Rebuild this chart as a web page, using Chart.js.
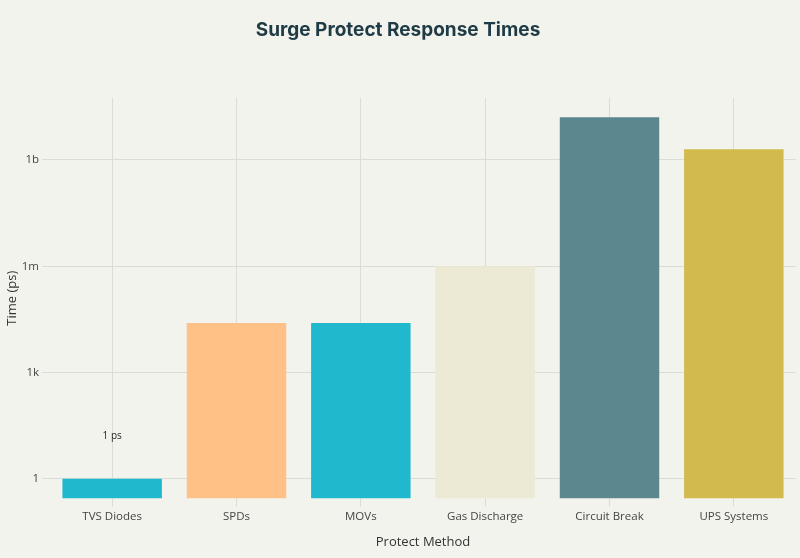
<!DOCTYPE html>
<html>
<head>
<meta charset="utf-8">
<script src="https://cdn.jsdelivr.net/npm/chart.js@4"></script>
<style>
  html, body { margin: 0; padding: 0; background: #f3f3ee; }
  #wrap { width: 800px; height: 558px; }
</style>
</head>
<body>
<div id="wrap"><canvas id="c"></canvas></div>
<script>
// ── data ─────────────────────────────────
const methods  = ['TVS Diodes', 'SPDs', 'MOVs', 'Gas Discharge', 'Circuit Break', 'UPS Systems'];
const timesPs  = [1, 25000, 25000, 1000000, 16000000000, 2000000000];
const barColors = ['#1fb8cd', '#ffc185', '#1fb8cd', '#ece9d5', '#5d878f', '#d2ba4c'];
const tickVals  = [1, 1e3, 1e6, 1e9];
const tickText  = ['1', '1k', '1m', '1b'];
const noteText  = '1 ps';

// 标注 TVS 上方的文字
const notePlugin = {
    id: 'note',
    afterDatasetsDraw(chart) {
        const { ctx, scales } = chart;
        const x = scales.x.getPixelForValue(0);
        const y = scales.y.getPixelForValue(timesPs[0]) - 43;
        ctx.save();
        ctx.font = '10px "Open Sans", sans-serif';
        ctx.fillStyle = '#222';
        ctx.textAlign = 'center';
        ctx.textBaseline = 'middle';
        ctx.fillText(noteText, x, y);
        ctx.restore();
    }
};

new Chart(document.getElementById('c'), {
    type: 'bar',
    data: {
        labels: methods,
        datasets: [{
            data: timesPs,
            backgroundColor: barColors,
            barPercentage: 0.8,
            categoryPercentage: 1.0,
        }]
    },
    plugins: [notePlugin],
    options: {
        responsive: true,
        maintainAspectRatio: false,
        animation: false,
        layout: { padding: { left: 0, right: 4, top: 14, bottom: 4 } },
        plugins: {
            legend: { display: false },
            tooltip: { enabled: false },
            title: {
                display: true,
                text: 'Surge Protect Response Times',
                color: '#1f3b45',
                font: { size: 19, weight: 'bold', family: 'Inter, "Open Sans", sans-serif' },
                padding: { top: 5, bottom: 56 }
            }
        },
        scales: {
            x: {
                grid: { color: '#dcdcd6', offset: false },
                border: { display: false },
                ticks: { color: '#444', font: { size: 11.5, family: '"Open Sans", sans-serif' } },
                title: { display: true, text: 'Protect Method', color: '#333',
                         font: { size: 13, family: '"Open Sans", sans-serif' }, padding: { top: 8 } }
            },
            y: {
                type: 'logarithmic',
                min: 0.275,
                max: 5.7e10,
                afterBuildTicks: s => { s.ticks = tickVals.map(v => ({ value: v })); },
                afterFit: s => { s.width = 50; },
                grid: { color: '#dcdcd6' },
                border: { display: false },
                ticks: {
                    color: '#444',
                    font: { size: 11.5, family: '"Open Sans", sans-serif' },
                    callback: v => tickText[tickVals.indexOf(v)] ?? ''
                },
                title: { display: true, text: 'Time (ps)', color: '#333',
                         font: { size: 13, family: '"Open Sans", sans-serif' } }
            }
        }
    }
});
</script>
</body>
</html>
